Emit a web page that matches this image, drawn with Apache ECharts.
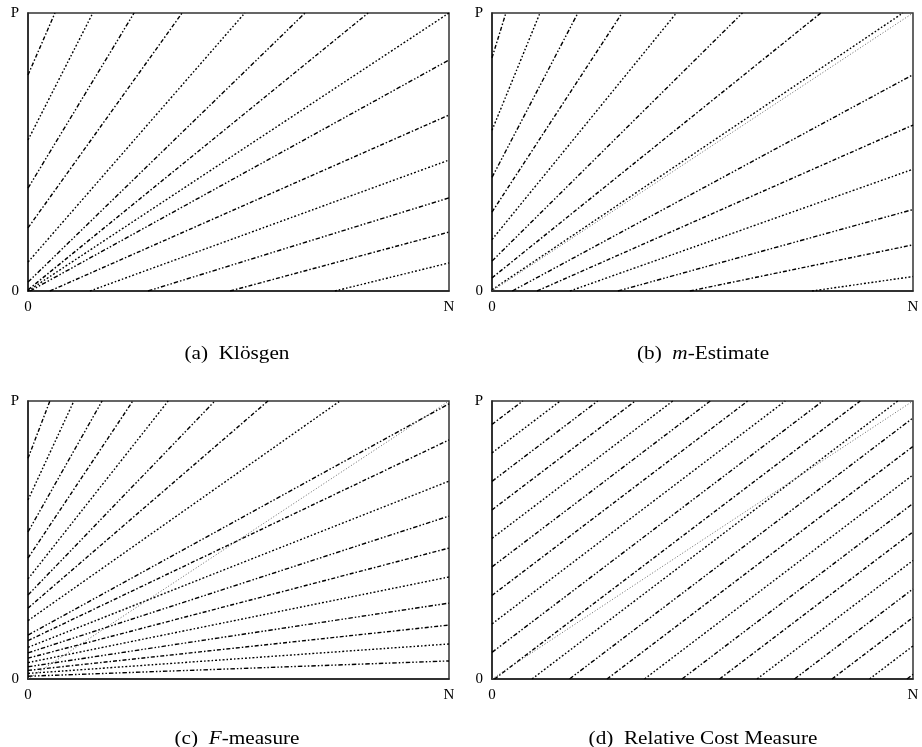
<!DOCTYPE html>
<html><head><meta charset="utf-8">
<script src="https://cdn.jsdelivr.net/npm/echarts@6/dist/echarts.min.js"></script>
<style>html,body{margin:0;padding:0;background:#fff}#c{width:922px;height:747px}</style>
</head><body><div id="c"></div>
<script>
const xTickLabels = ['0', 'N'];
const yTickLabels = ['0', 'P'];
const captions = ['(a)  Klösgen', '(b)  {i|m}-Estimate', '(c)  {i|F}-measure', '(d)  Relative Cost Measure'];
// isometric segments [x1, y1, x2, y2] in coverage space (N = 1, P = 1)
const klosgenLines = [
  [0,0.777,0.064,1],[0,0.543,0.154,1],[0,0.370,0.252,1],[0,0.227,0.366,1],
  [0,0.104,0.515,1],[0,0.032,0.658,1],[0,0.004,0.808,1],[0,0,1,1],
  [0.005,0,1,0.831],[0.052,0,1,0.633],[0.147,0,1,0.471],[0.285,0,1,0.335],
  [0.480,0,1,0.212],[0.729,0,1,0.101]
];
const mEstimateLines = [
  [0,0.8385,0.033,1],[0,0.578,0.114,1],[0,0.4085,0.204,1],[0,0.284,0.309,1],
  [0,0.185,0.438,1],[0,0.1075,0.595,1],[0,0.0473,0.781,1],[0,0.0043,0.976,1],
  [0.048,0,1,0.778],[0.107,0,1,0.597],[0.185,0,1,0.438],[0.299,0,1,0.293],
  [0.470,0,1,0.166],[0.760,0,1,0.052]
];
const fMeasureLines = [
  [0,0.794,0.052,1],[0,0.644,0.109,1],[0,0.529,0.176,1],[0,0.435,0.249,1],
  [0,0.360,0.333,1],[0,0.302,0.444,1],[0,0.255,0.570,1],[0,0.210,0.741,1],
  [0,0.158,1,0.990],[0,0.138,1,0.860],[0,0.114,1,0.712],[0,0.094,1,0.586],
  [0,0.075,1,0.471],[0,0.059,1,0.367],[0,0.044,1,0.273],[0,0.031,1,0.194],
  [0,0.020,1,0.126],[0,0.010,1,0.065]
];
const relCostLines = [
  [0,0.9159,0.0731,1],[0,0.8134,0.1621,1],[0,0.7109,0.2512,1],[0,0.6083,0.3403,1],
  [0,0.5058,0.4294,1],[0,0.4033,0.5184,1],[0,0.3007,0.6075,1],[0,0.1982,0.6966,1],
  [0,0.0957,0.7857,1],[0.0059,0,0.8747,1],[0.0950,0,0.9638,1],
  [0.1841,0,1,0.9391],[0.2732,0,1,0.8366],[0.3622,0,1,0.7341],[0.4513,0,1,0.6315],
  [0.5404,0,1,0.5290],[0.6295,0,1,0.4264],[0.7185,0,1,0.3239],[0.8076,0,1,0.2214],
  [0.8967,0,1,0.1189],[0.9857,0,1,0.0165]
];
const diagonal = [0, 0, 1, 1];

const panels = [
  {left: 28, top: 13, lines: klosgenLines, diag: false},
  {left: 492, top: 13, lines: mEstimateLines, diag: true},
  {left: 28, top: 401, lines: fMeasureLines, diag: true},
  {left: 492, top: 401, lines: relCostLines, diag: true}
];
const W = 421, H = 278;
const dashes = [[4, 2, 1.5, 2], [2, 2, 1.5, 2], [4.5, 2, 1.5, 2, 1.5, 2]];
const font = 'Liberation Serif';

const grid = [], xAxis = [], yAxis = [], series = [], graphic = [];
panels.forEach((p, i) => {
  grid.push({left: p.left, top: p.top, width: W, height: H, show: true, borderColor: '#333', borderWidth: 1.5, backgroundColor: 'transparent'});
  xAxis.push({type: 'value', gridIndex: i, min: 0, max: 1, interval: 1,
    axisLine: {show: true, lineStyle: {color: '#222', width: 1.5}}, axisTick: {show: false}, splitLine: {show: false},
    axisLabel: {formatter: v => xTickLabels[v], fontFamily: font, fontSize: 15, color: '#000', margin: 9}});
  yAxis.push({type: 'value', gridIndex: i, min: 0, max: 1, interval: 1,
    axisLine: {show: true, lineStyle: {color: '#222', width: 1.5}}, axisTick: {show: false}, splitLine: {show: false},
    axisLabel: {formatter: v => yTickLabels[v], fontFamily: font, fontSize: 15, color: '#000', margin: 9}});
  p.lines.forEach((s, k) => {
    series.push({type: 'line', xAxisIndex: i, yAxisIndex: i, showSymbol: false, silent: true,
      data: [[s[0], s[1]], [s[2], s[3]]],
      lineStyle: {color: '#000', width: 1.4, type: dashes[k % dashes.length]}});
  });
  if (p.diag) {
    series.push({type: 'line', xAxisIndex: i, yAxisIndex: i, showSymbol: false, silent: true,
      data: [[diagonal[0], diagonal[1]], [diagonal[2], diagonal[3]]],
      lineStyle: {color: '#555', width: 0.9, type: [1, 2]}});
  }
});
const capPos = [[237, 345], [703, 345], [237, 730], [703, 730]];
captions.forEach((c, i) => {
  graphic.push({type: 'text', x: capPos[i][0], y: capPos[i][1], scaleX: 1.18,
    style: {text: c, fontFamily: font, fontSize: 18, fill: '#000', textAlign: 'center',
      rich: {i: {fontFamily: font, fontStyle: 'italic', fontSize: 18}}}});
});
const chart = echarts.init(document.getElementById('c'));
chart.setOption({animation: false, grid, xAxis, yAxis, series, graphic});
</script>
</body></html>
